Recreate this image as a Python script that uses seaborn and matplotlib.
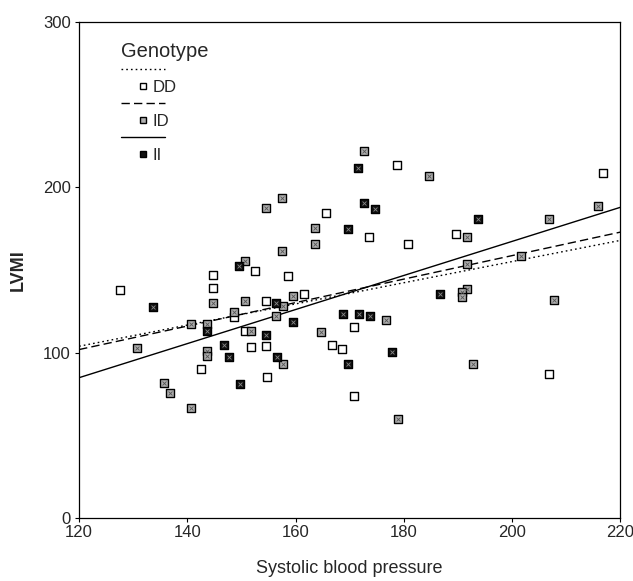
import numpy as np
import pandas as pd
import matplotlib
matplotlib.use('Agg')
import matplotlib.pyplot as plt
from matplotlib.lines import Line2D
import seaborn as sns

# Datos: presión sistólica (x) vs LVMI (y) por genotipo
dd_sbp = [127.6, 152.5, 144.7, 144.7, 154.6, 148.6, 150.7, 151.7, 154.6, 142.6, 154.7, 178.7,
          165.6, 173.6, 180.7, 158.6, 161.6, 170.7, 166.7, 168.6, 170.8, 216.8, 189.6, 206.8]
dd_lvmi = [138, 149.5, 147.3, 139.2, 131.3, 121.8, 113.3, 103.4, 104.4, 90.3, 85.5, 213.7,
           184.8, 169.9, 165.6, 146.5, 135.3, 115.9, 104.7, 102.6, 74.1, 208.9, 171.7, 87.4]

id_sbp = [154.6, 150.6, 144.7, 150.6, 148.6, 156.4, 140.6, 143.6, 151.7, 130.7, 143.6, 143.6,
          135.6, 136.7, 140.7, 172.6, 184.7, 157.5, 163.6, 163.6, 157.5, 159.6, 157.6, 176.7,
          164.6, 157.6, 178.9, 215.9, 206.8, 191.7, 201.7, 191.7, 191.7, 190.7, 190.7, 207.8, 192.8]
id_lvmi = [187.3, 155.6, 130, 131.3, 124.8, 122, 117.2, 117.2, 113.3, 103.2, 101.2, 98.2,
           82, 75.8, 66.9, 221.8, 206.7, 193.5, 175.6, 165.6, 161.4, 134.5, 128.3, 120,
           112.7, 93.3, 60, 188.9, 180.8, 169.9, 158.8, 153.8, 138.6, 137, 133.5, 131.7, 93.5]

ii_sbp = [133.6, 149.6, 156.4, 143.6, 154.6, 146.7, 147.7, 156.6, 149.7, 171.6, 172.6, 174.7,
          169.6, 186.7, 168.7, 171.7, 173.7, 159.6, 177.8, 169.7, 193.7]
ii_lvmi = [128, 152.3, 130, 113.3, 110.5, 105, 97.6, 97.6, 81, 211.7, 190.9, 186.8,
           174.7, 135.6, 123.2, 123.2, 122.4, 118.6, 100.6, 93.5, 180.8]

fit_x = [120, 220]
fit_dd = [104, 168]
fit_id = [102, 173]
fit_ii = [85, 188]

df = pd.concat([
    pd.DataFrame({'SBP': dd_sbp, 'LVMI': dd_lvmi, 'Genotype': 'DD'}),
    pd.DataFrame({'SBP': id_sbp, 'LVMI': id_lvmi, 'Genotype': 'ID'}),
    pd.DataFrame({'SBP': ii_sbp, 'LVMI': ii_lvmi, 'Genotype': 'II'}),
])
lines = pd.concat([
    pd.DataFrame({'SBP': fit_x, 'LVMI': fit_dd, 'Genotype': 'DD'}),
    pd.DataFrame({'SBP': fit_x, 'LVMI': fit_id, 'Genotype': 'ID'}),
    pd.DataFrame({'SBP': fit_x, 'LVMI': fit_ii, 'Genotype': 'II'}),
])

sns.set_style('ticks')
plt.rcParams['font.family'] = ['Liberation Sans', 'DejaVu Sans']

fig = plt.figure(figsize=(6.33, 5.81), dpi=100)
ax = fig.add_axes([0.125, 0.108, 0.855, 0.854])

line_styles = {'DD': (0, (1.2, 2.2)), 'ID': (0, (6, 3)), 'II': '-'}
for g in ['DD', 'ID', 'II']:
    sub = lines[lines['Genotype'] == g]
    sns.lineplot(data=sub, x='SBP', y='LVMI', ax=ax, color='black', lw=1,
                 linestyle=line_styles[g], legend=False)

faces = {'DD': 'white', 'ID': '#b0b0b0', 'II': '#111111'}
for g in ['DD', 'ID', 'II']:
    sub = df[df['Genotype'] == g]
    sns.scatterplot(data=sub, x='SBP', y='LVMI', ax=ax, marker='s', s=26,
                    facecolor=faces[g], edgecolor='black', linewidth=1, legend=False, zorder=3)
    if g != 'DD':
        sns.scatterplot(data=sub, x='SBP', y='LVMI', ax=ax, marker='x', s=8,
                        color='#555555' if g == 'ID' else '#888888', linewidth=0.6,
                        legend=False, zorder=4)

ax.set_xlim(120, 220)
ax.set_ylim(0, 300)
ax.set_xticks([120, 140, 160, 180, 200, 220])
ax.set_yticks([0, 100, 200, 300])
ax.tick_params(labelsize=12, length=3, width=0.8, color='black', pad=2)
ax.tick_params(axis='y', pad=3)
for sp in ax.spines.values():
    sp.set_linewidth(0.9)
    sp.set_color('black')
    sp.set_visible(True)

ax.set_xlabel('Systolic blood pressure', fontsize=13, labelpad=14)
ax.set_ylabel('LVMI', fontsize=13, fontweight='bold', labelpad=12)

handles = [
    Line2D([], [], color='black', lw=1, linestyle=line_styles['DD']),
    Line2D([], [], marker='s', color='none', markerfacecolor=faces['DD'],
           markeredgecolor='black', markersize=4.5),
    Line2D([], [], color='black', lw=1, linestyle=line_styles['ID']),
    Line2D([], [], marker='s', color='none', markerfacecolor=faces['ID'],
           markeredgecolor='black', markersize=4.5),
    Line2D([], [], color='black', lw=1, linestyle='-'),
    Line2D([], [], marker='s', color='none', markerfacecolor=faces['II'],
           markeredgecolor='black', markersize=4.5),
]
labels = ['', 'DD', '', 'ID', '', 'II']
leg = ax.legend(handles, labels, loc='upper left', bbox_to_anchor=(0.05, 0.99),
                frameon=False, title='Genotype', alignment='left', fontsize=12,
                title_fontsize=14.5, handlelength=2.6, labelspacing=0.12, handletextpad=-0.7)

fig.savefig('out.png', dpi=100)
